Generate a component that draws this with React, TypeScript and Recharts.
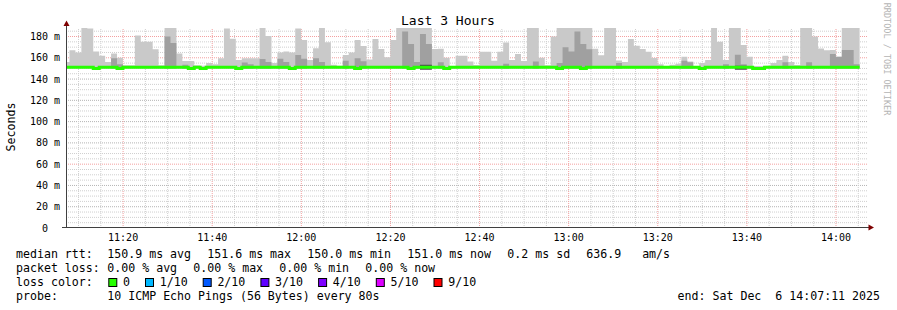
import React from 'react';
import { ComposedChart, Area, Line, XAxis, YAxis, ReferenceLine } from 'recharts';

// ---- values (times relative to 11:00:00, rtt in ms) ----
const timeTicks = ['11:20', '11:40', '12:00', '12:20', '12:40', '13:00', '13:20', '13:40', '14:00'];
const yTicks = [0, 20, 40, 60, 80, 100, 120, 140, 160, 180];
const redRows = [60, 160, 180];
const viewStart = '11:07:11';
const viewEnd = '14:07:11';
const firstSample = '11:06:38';
const stepSeconds = 80;

// top of the smoke (max ping) per 80 s step
const smokeMax = [
  156, 167, 165, 188, 187.5, 166, 162, 156, 164, 160,
  153, 153, 181, 175, 175, 168, 153, 188, 188, 164,
  157, 157, 153, 152.5, 155, 154, 159.5, 187.5, 178, 158,
  159.5, 159.5, 159.5, 188, 180.5, 155, 165, 166, 165, 187.5,
  176.7, 158, 169, 188, 174.5, 153.5, 152.5, 162.6, 165, 176.7,
  171, 158.5, 177.7, 168.3, 160.5, 176.7, 188, 188, 188, 188,
  188, 188, 168.3, 168.5, 160, 152, 162, 162, 156.4, 153.2,
  165.7, 165.7, 157.2, 165.7, 174.4, 158, 163.6, 157, 188, 188,
  160, 153, 180, 188, 188, 188, 188, 188, 188, 168.5,
  162.5, 188, 188, 157.5, 156, 177.7, 171.2, 168.3, 165.6, 159.7,
  154, 152, 153.5, 154.5, 161, 156.4, 152, 155.2, 158, 188,
  175, 158, 188, 188, 172, 161, 152.3, 152.3, 152.5, 155.2,
  158, 162, 156, 153.2, 188, 188, 180, 168.7, 167, 167.3,
  161, 188, 188, 188,
];

// top of the darker inner smoke band (null = none visible)
const smokeMid: (number | null)[] = [
  null, null, null, null, null, null, null, null, 159.5, 154,
  null, null, null, null, null, null, null, 180, 174, null,
  153.5, null, null, null, null, null, null, null, null, null,
  155.5, 154, null, 158.8, 156, null, 159, 156, null, 162.6,
  159, null, 159.5, 156, null, null, null, 157.3, null, 159.5,
  156.7, null, null, null, null, null, null, 184.8, 173, 156,
  182.4, 173, null, 155.7, null, null, null, null, null, null,
  null, null, null, null, 154.5, null, null, null, null, 156.4,
  null, null, null, 155, 170, 166, 184.8, 173, 168, null,
  null, null, null, 155, null, null, null, null, null, null,
  null, null, null, null, 157.3, 155.7, null, null, null, null,
  null, 154, null, 162.8, 154, null, null, null, null, null,
  null, 155.7, null, null, null, 155.7, null, null, null, 163.6,
  161, 167.3, 167.3, 154,
];

// the darkest core (only a few steps)
const smokeDeep: (number | null)[] = smokeMax.map(() => null);
smokeDeep[60] = 153.5;
smokeDeep[61] = 153.5;
smokeDeep[113] = 152.5;
smokeDeep[114] = 152.5;

// median rtt per step
const median = [
  151, 151, 151, 151, 151, 150, 151, 151, 151, 150,
  151, 151, 151, 151, 151, 151, 151, 151, 151, 151,
  151, 150, 151, 150, 151, 151, 151, 151, 151, 150,
  151, 151, 151, 151, 151, 151, 151, 151, 150, 151,
  151, 151, 151, 151, 151, 151, 151, 151, 151, 150,
  151, 151, 151, 151, 151, 151, 151, 151, 150, 151,
  151, 151, 151, 151, 150, 151, 151, 151, 151, 151,
  151, 151, 151, 151, 151, 151, 151, 151, 151, 151,
  151, 151, 151, 150, 151, 151, 151, 150, 151, 151,
  151, 151, 151, 151, 151, 151, 151, 151, 151, 151,
  151, 151, 151, 151, 151, 151, 151, 150, 151, 151,
  151, 151, 151, 151, 151, 151, 150, 150, 151, 151,
  151, 151, 151, 151, 151, 151, 151, 151, 151, 151,
  151, 151, 151, 151,
];

const rttStats = ['150.9 ms avg', '151.6 ms max', '150.0 ms min', '151.0 ms now', '0.2 ms sd', '636.9   am/s'];
const lossStats = ['0.00 % avg', '0.00 % max', '0.00 % min', '0.00 % now'];
const lossLabels = ['0', '1/10', '2/10', '3/10', '4/10', '5/10', '9/10'];
const probeText = '10 ICMP Echo Pings (56 Bytes) every 80s';
const endText = 'end: Sat Dec  6 14:07:11 2025';

// ---- styles ----
const lossPalette = ['#26ff00', '#00b8ff', '#0059ff', '#5e00ff', '#7e00ff', '#dd00ff', '#ff0000'];
const mono = "'DejaVu Sans Mono', monospace";
const W = 897;
const H = 310;
const SMOKE_BASE = 150;
const DEEP_BASE = 148.8;
const CHAR = 7.0;
const Y_MAX = 188;

const toSec = (hms: string) => {
  const [h, m, s = 0] = hms.split(':').map(Number);
  return (h - 11) * 3600 + m * 60 + s;
};
const fmtTime = (s: number) => `${11 + Math.floor(s / 3600)}:${String(Math.floor((s % 3600) / 60)).padStart(2, '0')}`;

const t0 = toSec(firstSample);
const table = smokeMax.map((max, i) => ({
  t: t0 + i * stepSeconds,
  light: [SMOKE_BASE, max],
  mid: [SMOKE_BASE, smokeMid[i] ?? SMOKE_BASE],
  deep: [DEEP_BASE, smokeDeep[i] ?? DEEP_BASE],
  median: median[i],
}));
table.push({ ...table[table.length - 1], t: t0 + smokeMax.length * stepSeconds });

const xStart = toSec(viewStart);
const xEnd = toSec(viewEnd);
const majorX = timeTicks.map(toSec);
const minorX: number[] = [];
for (let s = 600; s < xEnd; s += 300) if (!majorX.includes(s)) minorX.push(s);
const gridY: number[] = [];
for (let v = 5; v <= 185; v += 5) gridY.push(v);

const YTick = ({ y, payload }: any) => (
  <text x={payload.value === 0 ? 48 : 60} y={y + 3.6} textAnchor="end" fontFamily={mono} fontSize={10} fill="#000">
    {payload.value === 0 ? '0' : `${payload.value} m`}
  </text>
);

const XTick = ({ x, payload }: any) => (
  <text x={x} y={241} textAnchor="middle" fontFamily={mono} fontSize={10} fill="#000">
    {fmtTime(payload.value)}
  </text>
);

const Txt = ({ x, y, children, anchor = 'start', size = 11.6, fill = '#000' }: any) => (
  <text x={x} y={y} textAnchor={anchor} fontFamily={mono} fontSize={size} fill={fill} style={{ whiteSpace: 'pre' }}>
    {children}
  </text>
);

const Legend = () => {
  const rows = [258.3, 272.3, 286.3, 300.3];
  const col = 107.3;
  let x = col;
  const rtt = rttStats.map((s) => {
    const el = <Txt key={s} x={x} y={rows[0]}>{s}</Txt>;
    x += s.length * CHAR + 16;
    return el;
  });
  x = col;
  const loss = lossStats.map((s, i) => {
    const el = <Txt key={i} x={x} y={rows[1]}>{s}</Txt>;
    x += s.length * CHAR + 16;
    return el;
  });
  x = col + 1;
  const colors = lossLabels.map((s, i) => {
    const bx = x;
    x += 14.7 + s.length * CHAR + 15;
    return (
      <g key={s}>
        <rect x={bx + 0.5} y={278.5} width={8} height={8} fill={lossPalette[i]} stroke="#000" strokeWidth={1} />
        <Txt x={bx + 14.7} y={rows[2]}>{s}</Txt>
      </g>
    );
  });
  return (
    <g>
      <Txt x={16} y={rows[0]}>median rtt:</Txt>
      {rtt}
      <Txt x={16} y={rows[1]}>packet loss:</Txt>
      {loss}
      <Txt x={16} y={rows[2]}>loss color:</Txt>
      {colors}
      <Txt x={16} y={rows[3]}>probe:</Txt>
      <Txt x={col} y={rows[3]}>{probeText}</Txt>
      <Txt x={880} y={rows[3]} anchor="end">{endText}</Txt>
    </g>
  );
};

const layer: React.CSSProperties = { position: 'absolute', left: 0, top: 0 };

export default function App() {
  return (
    <div style={{ position: 'absolute', left: 0, top: 0, width: W, height: H, background: '#fff' }}>
      {/* grid + tick labels underneath */}
      <div style={layer}>
        <ComposedChart width={W} height={H} data={table} margin={{ top: 28, right: 29, left: 0, bottom: 0 }}>
          <XAxis
            dataKey="t"
            type="number"
            domain={[xStart, xEnd]}
            allowDataOverflow
            ticks={majorX}
            interval={0}
            tick={<XTick />}
            axisLine={false}
            tickLine={false}
            height={82}
          />
          <YAxis
            type="number"
            domain={[0, Y_MAX]}
            allowDataOverflow
            ticks={yTicks}
            interval={0}
            tick={<YTick />}
            axisLine={false}
            tickLine={false}
            width={66}
          />
          {gridY.map((v) => (
            <ReferenceLine
              key={`h${v}`}
              y={v}
              stroke={redRows.includes(v) ? '#f3a0a0' : v % 20 === 0 ? '#b4b4b4' : '#cfcfcf'}
              strokeDasharray="1 1"
            />
          ))}
          {minorX.map((s) => (
            <ReferenceLine key={`v${s}`} x={s} stroke="#cfcfcf" strokeDasharray="1 1" />
          ))}
          {majorX.map((s) => (
            <ReferenceLine key={`m${s}`} x={s} stroke="#f3a0a0" strokeDasharray="1 1" />
          ))}
        </ComposedChart>
      </div>
      {/* smoke and median on top */}
      <div style={layer}>
        <ComposedChart width={W} height={H} data={table} margin={{ top: 28, right: 29, left: 66, bottom: 82 }}>
          <XAxis dataKey="t" type="number" domain={[xStart, xEnd]} allowDataOverflow hide />
          <YAxis type="number" domain={[0, Y_MAX]} allowDataOverflow hide />
          <Area type="stepAfter" dataKey="light" stroke="none" fill="#c9c9c9" fillOpacity={1} isAnimationActive={false} dot={false} activeDot={false} />
          <Area type="stepAfter" dataKey="mid" stroke="none" fill="#a0a0a0" fillOpacity={1} isAnimationActive={false} dot={false} activeDot={false} />
          <Area type="stepAfter" dataKey="deep" stroke="none" fill="#4a4a4a" fillOpacity={1} isAnimationActive={false} dot={false} activeDot={false} />
          <Line type="stepAfter" dataKey="median" stroke="#26ff00" strokeWidth={3} dot={false} activeDot={false} isAnimationActive={false} />
        </ComposedChart>
      </div>
      <svg width={W} height={H} style={{ ...layer, pointerEvents: 'none' }}>
        <Txt x={448} y={24.5} anchor="middle" size={13}>Last 3 Hours</Txt>
        <g transform="translate(15,127) rotate(-90)">
          <Txt x={0} y={0} anchor="middle">Seconds</Txt>
        </g>
        <g transform="translate(884,59) rotate(90)">
          <Txt x={0} y={0} anchor="middle" size={8.5} fill="#b4b4b4">RRDTOOL / TOBI OETIKER</Txt>
        </g>
        {/* axes with arrows */}
        <line x1={66.5} y1={228} x2={66.5} y2={25} stroke="#404040" strokeWidth={1} />
        <line x1={62} y1={227.5} x2={869} y2={227.5} stroke="#404040" strokeWidth={1} />
        <polygon points="66.5,20.5 63.5,26 69.5,26" fill="#7f0000" />
        <polygon points="874,227.5 868.5,224.5 868.5,230.5" fill="#7f0000" />
        <Legend />
      </svg>
    </div>
  );
}
